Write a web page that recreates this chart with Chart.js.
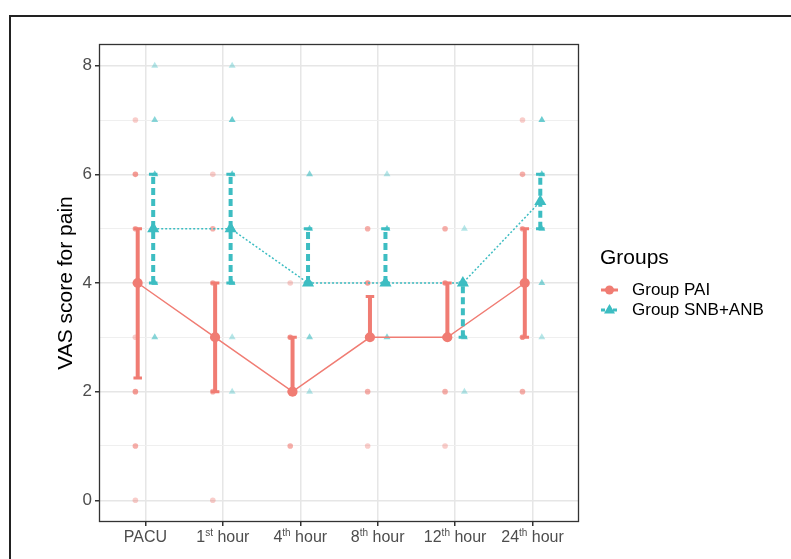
<!DOCTYPE html>
<html>
<head>
<meta charset="utf-8">
<script src="https://cdn.jsdelivr.net/npm/chart.js@4/dist/chart.umd.min.js"></script>
<style>
  html, body { margin: 0; padding: 0; background: #fff; }
  #wrap { width: 791px; height: 559px; position: relative; }
</style>
</head>
<body>
<div id="wrap"><canvas id="vas" width="791" height="559"></canvas></div>
<script>
// categories and summary values (median with error bar limits)
const categories = ['PACU', '1st hour', '4th hour', '8th hour', '12th hour', '24th hour'];
const yTicks = [0, 2, 4, 6, 8];
const groupNames = ['Group PAI', 'Group SNB+ANB'];

const paiMedian = [4, 3, 2, 3, 3, 4];
const paiLow = [2.25, 2, 2, 3, 3, 3];
const paiHigh = [5, 4, 3, 3.75, 4, 5];

const snbMedian = [5, 5, 4, 4, 4, 5.5];
const snbLow = [4, 4, 4, 4, 3, 5];
const snbHigh = [6, 6, 5, 5, 4, 6];

// raw scores: [category index, score, number of patients at that score]
const paiRaw = [
  [0, 0, 1], [0, 1, 2], [0, 2, 3], [0, 3, 1], [0, 4, 3], [0, 5, 2], [0, 6, 3], [0, 7, 1],
  [1, 0, 1], [1, 2, 2], [1, 3, 3], [1, 4, 2], [1, 5, 2], [1, 6, 1],
  [2, 1, 2], [2, 2, 4], [2, 3, 3], [2, 4, 1],
  [3, 1, 1], [3, 2, 2], [3, 3, 4], [3, 4, 3], [3, 5, 2],
  [4, 1, 1], [4, 2, 2], [4, 3, 4], [4, 4, 3], [4, 5, 2],
  [5, 2, 2], [5, 3, 3], [5, 4, 3], [5, 5, 2], [5, 6, 2], [5, 7, 1]
];
const snbRaw = [
  [0, 3, 2], [0, 4, 4], [0, 5, 3], [0, 6, 3], [0, 7, 2], [0, 8, 1],
  [1, 2, 1], [1, 3, 1], [1, 4, 3], [1, 5, 3], [1, 6, 3], [1, 7, 3], [1, 8, 1],
  [2, 2, 1], [2, 3, 2], [2, 4, 4], [2, 5, 3], [2, 6, 2],
  [3, 3, 2], [3, 4, 4], [3, 5, 3], [3, 6, 1],
  [4, 2, 1], [4, 3, 3], [4, 4, 3], [4, 5, 1],
  [5, 3, 1], [5, 4, 2], [5, 5, 3], [5, 6, 3], [5, 7, 3]
];

const RED = '#F07C73';
const TEAL = '#3DBDC2';
const FONT = '"Liberation Sans", Arial, sans-serif';

function rgba(hex, a) {
  const n = parseInt(hex.slice(1), 16);
  return `rgba(${(n >> 16) & 255},${(n >> 8) & 255},${n & 255},${a})`;
}

// overlapping points, each one semi transparent
function countAlpha(n) {
  return 1 - Math.pow(0.62, n);
}

function rawPoints(raw, offset) {
  return raw.map(r => ({ x: r[0] + 1 + offset, y: r[1], n: r[2] }));
}

function medianPoints(vals, offset) {
  return vals.map((v, i) => ({ x: i + 1 + offset, y: v }));
}

function barSegments(lo, hi, offset) {
  const pts = [];
  lo.forEach((l, i) => {
    const x = i + 1 + offset;
    pts.push({ x, y: l }, { x, y: hi[i] }, { x, y: null });
  });
  return pts;
}

function capSegments(lo, hi, offset, w) {
  const pts = [];
  lo.forEach((l, i) => {
    const x = i + 1 + offset;
    [l, hi[i]].forEach(v => {
      pts.push({ x: x - w, y: v }, { x: x + w, y: v }, { x, y: null });
    });
  });
  return pts;
}

const segBase = {
  type: 'line',
  pointRadius: 0,
  pointHoverRadius: 0,
  spanGaps: false,
  fill: false,
  tension: 0
};

// draws frame, panel border, axis title, x labels with superscripts, legend
const decorations = {
  id: 'decorations',
  beforeDraw(chart) {
    const ctx = chart.ctx;
    ctx.save();
    ctx.strokeStyle = '#222';
    ctx.lineWidth = 2;
    ctx.beginPath();
    ctx.moveTo(10, 559);
    ctx.lineTo(10, 16);
    ctx.lineTo(791, 16);
    ctx.stroke();
    ctx.restore();
  },
  afterDraw(chart) {
    const ctx = chart.ctx;
    const a = chart.chartArea;
    const xs = chart.scales.x;
    ctx.save();

    // panel border
    ctx.strokeStyle = '#333';
    ctx.lineWidth = 1.3;
    ctx.strokeRect(Math.round(a.left) + 0.5, Math.round(a.top) + 0.5,
      Math.round(a.right - a.left) - 1, Math.round(a.bottom - a.top) - 1);

    // y axis title
    ctx.fillStyle = '#000';
    ctx.font = '21px ' + FONT;
    ctx.textAlign = 'center';
    ctx.textBaseline = 'middle';
    ctx.translate(66, (a.top + a.bottom) / 2);
    ctx.rotate(-Math.PI / 2);
    ctx.fillText('VAS score for pain', 0, 0);
    ctx.setTransform(1, 0, 0, 1, 0, 0);

    // x labels
    ctx.fillStyle = '#4D4D4D';
    ctx.textBaseline = 'alphabetic';
    ctx.textAlign = 'left';
    const mainFont = '16px ' + FONT;
    const supFont = '10px ' + FONT;
    categories.forEach((lab, i) => {
      const cx = xs.getPixelForValue(i + 1);
      const m = lab.match(/^(\d+)(st|nd|rd|th)( .*)$/);
      const parts = m ? [[m[1], mainFont, 0], [m[2], supFont, -6], [m[3], mainFont, 0]] : [[lab, mainFont, 0]];
      let total = 0;
      parts.forEach(p => { ctx.font = p[1]; total += ctx.measureText(p[0]).width; });
      let x = cx - total / 2;
      parts.forEach(p => {
        ctx.font = p[1];
        ctx.fillText(p[0], x, 541.5 + p[2]);
        x += ctx.measureText(p[0]).width;
      });
    });

    // legend
    ctx.fillStyle = '#000';
    ctx.font = '21px ' + FONT;
    ctx.textBaseline = 'middle';
    ctx.fillText('Groups', 600, 258);
    ctx.font = '17px ' + FONT;
    const rows = [
      { y: 290, color: RED, dash: [], shape: 'circle' },
      { y: 310, color: TEAL, dash: [4, 2], shape: 'triangle' }
    ];
    rows.forEach((r, i) => {
      ctx.strokeStyle = r.color;
      ctx.fillStyle = r.color;
      ctx.lineWidth = 3;
      ctx.setLineDash(r.dash);
      ctx.beginPath();
      ctx.moveTo(601, r.y);
      ctx.lineTo(618, r.y);
      ctx.stroke();
      ctx.setLineDash([]);
      ctx.beginPath();
      if (r.shape === 'circle') {
        ctx.arc(609.5, r.y, 4.5, 0, Math.PI * 2);
      } else {
        ctx.moveTo(609.5, r.y - 6);
        ctx.lineTo(615, r.y + 3.5);
        ctx.lineTo(604, r.y + 3.5);
        ctx.closePath();
      }
      ctx.fill();
      ctx.fillStyle = '#000';
      ctx.fillText(groupNames[i], 632, r.y);
    });
    ctx.restore();
  }
};

new Chart(document.getElementById('vas'), {
  type: 'scatter',
  data: {
    datasets: [
      {
        label: 'PAI raw',
        data: rawPoints(paiRaw, -0.13),
        pointStyle: 'circle',
        pointRadius: 2.8,
        pointBorderWidth: 0,
        pointBackgroundColor: c => rgba(RED, countAlpha(c.raw ? c.raw.n : 1)),
        order: 10
      },
      {
        label: 'SNB raw',
        data: rawPoints(snbRaw, 0.12),
        pointStyle: 'triangle',
        pointRadius: 4,
        pointBorderWidth: 0,
        pointBackgroundColor: c => rgba(TEAL, countAlpha(c.raw ? c.raw.n : 1)),
        order: 9
      },
      {
        ...segBase,
        label: 'PAI median line',
        data: medianPoints(paiMedian, -0.1),
        borderColor: RED,
        borderWidth: 1.5,
        order: 8
      },
      {
        ...segBase,
        label: 'SNB median line',
        data: medianPoints(snbMedian, 0.1),
        borderColor: TEAL,
        borderWidth: 1.5,
        borderDash: [2, 2],
        order: 7
      },
      {
        ...segBase,
        label: 'PAI error bars',
        data: barSegments(paiLow, paiHigh, -0.1),
        borderColor: RED,
        borderWidth: 4,
        order: 6
      },
      {
        ...segBase,
        label: 'PAI caps',
        data: capSegments(paiLow, paiHigh, -0.1, 0.055),
        borderColor: RED,
        borderWidth: 3,
        order: 5
      },
      {
        ...segBase,
        label: 'SNB error bars',
        data: barSegments(snbLow, snbHigh, 0.1),
        borderColor: TEAL,
        borderWidth: 4,
        borderDash: [7, 4],
        order: 4
      },
      {
        ...segBase,
        label: 'SNB caps',
        data: capSegments(snbLow, snbHigh, 0.1, 0.055),
        borderColor: TEAL,
        borderWidth: 3,
        order: 3
      },
      {
        label: 'PAI median',
        data: medianPoints(paiMedian, -0.1),
        pointStyle: 'circle',
        pointRadius: 5,
        pointBorderWidth: 0,
        pointBackgroundColor: RED,
        order: 2
      },
      {
        label: 'SNB median',
        data: medianPoints(snbMedian, 0.1),
        pointStyle: 'triangle',
        pointRadius: 7,
        pointBorderWidth: 0,
        pointBackgroundColor: TEAL,
        order: 1
      }
    ]
  },
  options: {
    responsive: false,
    animation: false,
    events: [],
    layout: { padding: { left: 0, top: 44, right: 212, bottom: 0 } },
    plugins: {
      legend: { display: false },
      tooltip: { enabled: false }
    },
    scales: {
      x: {
        type: 'linear',
        min: 0.4,
        max: 6.6,
        afterBuildTicks: s => { s.ticks = categories.map((c, i) => ({ value: i + 1 })); },
        afterFit: s => { s.height = 37; },
        ticks: { callback: () => '', padding: 0 },
        grid: { color: '#E6E6E6', lineWidth: 1.5, tickColor: '#333', tickLength: 4 },
        border: { display: false }
      },
      y: {
        type: 'linear',
        min: -0.4,
        max: 8.4,
        afterBuildTicks: s => {
          s.ticks = [0, 1, 2, 3, 4, 5, 6, 7, 8].map(v => ({ value: v }));
        },
        afterFit: s => { s.width = 99; },
        ticks: {
          callback: v => (yTicks.includes(v) ? String(v) : ''),
          color: '#4D4D4D',
          font: { family: FONT, size: 17 },
          padding: 3
        },
        grid: {
          color: c => (c.tick && c.tick.value % 2 ? '#EFEFEF' : '#E6E6E6'),
          lineWidth: c => (c.tick && c.tick.value % 2 ? 1 : 1.5),
          tickColor: c => (c.tick && c.tick.value % 2 ? 'rgba(0,0,0,0)' : '#333'),
          tickLength: 4
        },
        border: { display: false }
      }
    }
  },
  plugins: [decorations]
});
</script>
</body>
</html>
